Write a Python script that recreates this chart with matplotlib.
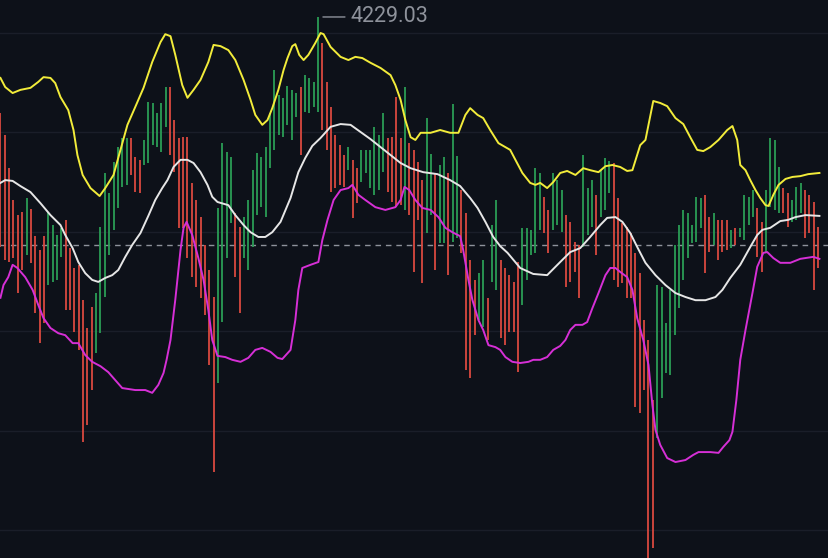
import numpy as np
import matplotlib.pyplot as plt
from matplotlib.transforms import offset_copy

# ---------- datos ----------
bar_high = [
    4204.9, 4199.3, 4191.0, 4183.0, 4179.2, 4180.0, 4183.5, 4180.7, 4173.9, 4170.4,
    4173.9, 4180.0, 4176.7, 4174.2, 4176.0, 4178.0, 4170.9, 4165.9, 4166.7, 4157.9,
    4150.8, 4156.1, 4159.6, 4176.2, 4189.8, 4184.8, 4192.6, 4196.3, 4198.6, 4198.6,
    4198.6, 4193.8, 4193.0, 4198.1, 4207.6, 4207.4, 4204.9, 4207.4, 4211.4, 4211.4,
    4203.1, 4198.6, 4198.8, 4198.8, 4187.3, 4183.0, 4178.7, 4171.7, 4165.4, 4158.6,
    4181.0, 4197.3, 4195.1, 4193.8, 4179.7, 4176.2, 4178.7, 4183.0, 4190.5, 4194.8,
    4193.8, 4196.3, 4204.9, 4215.7, 4209.4, 4208.7, 4211.7, 4210.7, 4209.9, 4211.4,
    4214.4, 4213.7, 4212.7, 4229.03, 4222.5, 4212.7, 4206.4, 4199.3, 4196.8, 4194.3,
    4196.3, 4193.0, 4191.0, 4195.6, 4195.6, 4195.6, 4201.4, 4199.3, 4204.9, 4198.6,
    4198.8, 4208.9, 4198.6, 4211.4, 4197.3, 4195.6, 4192.6, 4188.0, 4203.6, 4194.6,
    4189.8, 4191.8, 4193.8, 4189.8, 4207.1, 4194.1, 4185.5, 4179.7, 4167.9, 4162.9,
    4164.6, 4167.9, 4158.4, 4176.7, 4183.0, 4167.9, 4165.9, 4164.1, 4162.4, 4167.4,
    4176.0, 4176.0, 4175.5, 4191.0, 4189.8, 4183.8, 4180.5, 4189.8, 4188.0, 4185.5,
    4179.2, 4177.5, 4172.4, 4171.7, 4194.3, 4186.0, 4188.0, 4184.3, 4190.5, 4193.6,
    4192.8, 4192.3, 4183.5, 4177.2, 4176.2, 4174.7, 4169.7, 4164.6, 4152.8, 4147.8,
    4132.7, 4161.6, 4161.1, 4152.1, 4160.4, 4171.7, 4176.7, 4180.5, 4179.7, 4176.7,
    4183.8, 4183.5, 4184.3, 4178.7, 4179.7, 4178.0, 4178.0, 4178.0, 4175.5, 4176.0,
    4176.0, 4184.3, 4183.8, 4185.5, 4181.0, 4177.5, 4185.5, 4198.6, 4198.1, 4191.3,
    4186.0, 4184.8, 4183.0, 4186.3, 4187.3, 4185.5, 4184.3, 4182.5, 4176.2,
]
bar_low = [
    4171.2, 4167.9, 4167.4, 4168.4, 4159.6, 4165.4, 4169.2, 4167.2, 4154.6, 4147.0,
    4152.1, 4161.6, 4162.4, 4162.9, 4168.7, 4155.3, 4155.3, 4149.8, 4145.3, 4122.1,
    4126.4, 4135.2, 4144.5, 4149.5, 4158.6, 4169.2, 4175.5, 4181.0, 4186.3, 4186.8,
    4189.3, 4185.0, 4184.8, 4191.8, 4192.3, 4196.8, 4196.3, 4195.1, 4201.4, 4194.3,
    4190.0, 4176.0, 4176.0, 4168.4, 4163.6, 4161.1, 4158.4, 4154.1, 4141.5, 4114.6,
    4137.0, 4152.3, 4168.4, 4177.2, 4163.6, 4154.6, 4168.4, 4165.4, 4171.2, 4179.2,
    4181.2, 4178.7, 4191.0, 4195.6, 4199.3, 4198.8, 4201.9, 4198.1, 4203.9, 4194.3,
    4205.1, 4204.9, 4206.4, 4205.1, 4200.6, 4195.6, 4185.0, 4186.0, 4186.8, 4186.3,
    4190.5, 4178.5, 4182.2, 4187.5, 4189.8, 4186.0, 4184.3, 4185.5, 4190.0, 4185.0,
    4182.5, 4181.2, 4181.7, 4180.5, 4179.2, 4164.9, 4178.0, 4162.1, 4174.7, 4179.2,
    4165.4, 4172.2, 4172.2, 4164.1, 4172.4, 4173.4, 4169.7, 4140.2, 4138.2, 4149.0,
    4152.8, 4151.1, 4147.8, 4162.4, 4160.4, 4148.3, 4146.5, 4149.8, 4149.8, 4139.7,
    4156.6, 4162.9, 4169.2, 4169.7, 4175.5, 4174.7, 4169.7, 4175.5, 4176.7, 4175.0,
    4161.1, 4162.4, 4164.9, 4158.4, 4171.2, 4174.2, 4176.2, 4169.2, 4178.7, 4180.5,
    4184.8, 4162.9, 4161.1, 4162.1, 4158.4, 4158.4, 4130.9, 4129.4, 4135.2, 4091.0,
    4095.5, 4123.1, 4133.2, 4139.5, 4139.0, 4149.0, 4155.8, 4162.9, 4168.4, 4172.2,
    4172.4, 4176.0, 4164.6, 4169.9, 4171.7, 4167.9, 4169.9, 4170.4, 4170.9, 4171.7,
    4173.7, 4172.9, 4176.7, 4178.7, 4168.7, 4164.9, 4169.9, 4181.2, 4180.5, 4179.7,
    4179.7, 4176.2, 4177.5, 4178.0, 4179.7, 4173.4, 4174.7, 4160.4, 4165.9,
]
# G = sube, R = baja
bar_dir = list(
    "RRRRRRGRRR" "RGGGGRRRRR" "RRGGGGGGGG" "RRRGGGGGGR" "RRRRRRRRRR"
    "GGGGRRGGGG" "GGGGGGGGGR" "GGGGRRRRRR" "GRRGGGGGGR" "RRRGRRRRGG"
    "RGGRGGRRRR" "GGRGGRRRRR" "GGGGGRRGGG" "RRRRGGGRGG" "GRRRRRRRRR"
    "RGGGGGGGGG" "GGRRGRRRGR" "GGGGRRGGGG" "RRGGGRRRR"
)

upper_idx = [0, 1.1, 2.8, 4.6, 6.9, 8.7, 9.9, 11.5, 12.6, 13.8, 15.6, 16.8, 17.7, 18.9,
             20.7, 22.8, 24.1, 26.0, 27.6, 29.2, 31.0, 32.9, 34.9, 36.8, 37.9, 39.1,
             40.2, 41.8, 43.0, 44.4, 46.0, 47.8, 49.0, 50.6, 52.4, 54.0, 55.9, 57.5,
             58.6, 60.2, 61.4, 62.5, 63.9, 65.1, 66.0, 67.1, 67.8, 68.7, 69.7, 70.8,
             72.4, 73.6, 74.3, 75.9, 78.2, 80.0, 81.6, 83.2, 85.1, 87.4, 89.7, 90.8,
             92.0, 93.1, 94.3, 95.4, 96.6, 98.9, 101.1, 103.4, 105.3, 106.9, 108.0,
             109.7, 111.0, 112.6, 114.5, 117.2, 118.4, 120.0, 121.8, 123.0, 124.1,
             125.7, 127.1, 128.7, 130.3, 132.2, 134.0, 135.6, 137.5, 139.1, 140.7,
             142.5, 144.1, 145.3, 147.1, 148.3, 150.1, 151.7, 153.3, 155.2, 157.0,
             158.6, 160.2, 161.6, 163.2, 165.1, 167.1, 168.3, 169.4, 170.1, 171.3,
             172.4, 173.6, 174.7, 175.9, 176.6, 177.7, 178.9, 180.5, 182.1, 183.9,
             185.7, 188.3]
upper_val = [4213.7, 4211.4, 4209.9, 4210.7, 4211.2, 4212.7, 4213.9, 4213.7, 4212.4,
             4208.9, 4205.6, 4200.6, 4194.3, 4189.3, 4186.0, 4184.0, 4186.0, 4189.3,
             4195.6, 4201.9, 4206.4, 4211.2, 4217.7, 4222.7, 4224.7, 4224.2, 4219.5,
             4211.9, 4208.7, 4210.7, 4213.2, 4217.7, 4222.0, 4221.7, 4220.7, 4218.2,
             4213.2, 4208.2, 4204.4, 4201.9, 4203.1, 4206.1, 4210.7, 4215.7, 4218.7,
             4221.7, 4222.2, 4219.5, 4218.2, 4219.5, 4222.5, 4225.0, 4224.7, 4221.5,
             4219.0, 4218.2, 4219.0, 4218.7, 4217.5, 4216.2, 4214.4, 4211.9, 4208.2,
             4203.1, 4198.8, 4198.1, 4199.9, 4199.9, 4200.6, 4199.9, 4199.9, 4204.4,
             4206.1, 4204.4, 4203.6, 4200.6, 4197.3, 4195.6, 4193.1, 4189.8, 4187.3,
             4186.8, 4187.3, 4186.0, 4187.5, 4189.8, 4190.3, 4189.3, 4191.0, 4190.5,
             4190.0, 4191.5, 4191.8, 4191.3, 4190.3, 4190.5, 4196.8, 4198.1, 4207.9,
             4207.4, 4206.6, 4203.6, 4202.1, 4198.8, 4195.6, 4195.3, 4196.3, 4198.1,
             4200.6, 4201.6, 4198.1, 4191.8, 4190.5, 4188.0, 4185.5, 4183.5, 4181.7,
             4181.5, 4184.3, 4186.8, 4188.3, 4188.8, 4189.0, 4189.5, 4189.8]

mid_idx = [0, 1.1, 2.8, 4.6, 6.9, 9.2, 11.5, 13.8, 14.9, 16.6, 17.9, 19.5, 21.1, 22.5,
           24.1, 25.7, 27.1, 28.7, 30.3, 32.2, 34.0, 35.6, 37.2, 38.4, 39.8, 41.4, 43.0,
           44.4, 46.0, 47.6, 48.7, 49.9, 52.4, 54.0, 55.9, 57.5, 59.3, 60.9, 62.5, 64.4,
           66.7, 68.5, 70.1, 71.7, 73.6, 75.9, 78.2, 80.5, 82.8, 85.1, 87.4, 89.7, 92.0,
           94.3, 97.2, 100.5, 103.4, 105.7, 108.0, 109.7, 111.5, 113.3, 114.9, 116.6,
           119.5, 122.5, 125.7, 128.7, 131.0, 133.3, 135.6, 137.9, 139.5, 141.4, 143.0,
           144.8, 146.4, 148.3, 150.6, 152.9, 155.2, 157.5, 159.8, 162.1, 164.4, 166.0,
           167.8, 170.1, 172.4, 174.0, 175.2, 177.0, 179.3, 181.1, 182.8, 185.1, 188.3]
mid_val = [4187.3, 4188.0, 4187.8, 4186.5, 4185.0, 4182.2, 4179.2, 4176.7, 4174.2,
           4170.9, 4167.4, 4164.6, 4162.9, 4162.4, 4163.4, 4164.1, 4165.4, 4168.7,
           4171.7, 4174.7, 4179.0, 4183.0, 4186.0, 4188.0, 4191.3, 4193.1, 4193.1,
           4192.3, 4190.0, 4186.8, 4183.8, 4182.5, 4181.7, 4179.2, 4176.7, 4174.9,
           4173.7, 4173.7, 4174.9, 4177.5, 4183.5, 4190.0, 4193.6, 4196.6, 4198.6,
           4201.4, 4202.1, 4201.9, 4200.1, 4198.3, 4196.3, 4194.3, 4192.3, 4191.0,
           4190.0, 4189.5, 4188.0, 4186.5, 4183.5, 4181.0, 4177.5, 4173.7, 4171.4,
           4169.7, 4165.9, 4164.4, 4164.1, 4167.4, 4169.9, 4170.9, 4173.7, 4176.7,
           4178.5, 4178.7, 4177.5, 4174.7, 4171.2, 4167.2, 4164.1, 4161.6, 4159.6,
           4158.6, 4157.8, 4157.8, 4158.6, 4160.4, 4163.4, 4166.7, 4171.2, 4174.2,
           4175.5, 4176.0, 4177.7, 4178.0, 4178.7, 4179.2, 4179.0]

lower_idx = [0, 0.7, 1.8, 2.8, 3.9, 5.7, 7.4, 8.7, 9.9, 11.5, 13.3, 14.9, 16.6, 17.9,
             19.5, 21.1, 23.0, 24.8, 26.4, 28.0, 31.0, 33.3, 34.9, 36.3, 37.5, 38.2,
             39.1, 40.2, 41.4, 42.1, 42.8, 44.1, 45.5, 46.7, 47.8, 48.7, 49.9, 51.7,
             53.3, 55.2, 57.0, 58.6, 60.2, 62.1, 63.7, 64.8, 66.7, 67.8, 68.5, 69.4,
             71.3, 73.1, 74.0, 75.2, 76.6, 78.2, 80.0, 80.9, 82.3, 83.9, 86.2, 88.5,
             90.8, 92.0, 92.9, 94.0, 95.4, 97.0, 98.9, 100.7, 102.3, 103.9, 105.7,
             106.4, 107.6, 108.5, 109.9, 111.0, 112.2, 113.8, 114.9, 116.1, 117.7,
             119.5, 121.4, 122.5, 124.1, 125.7, 127.1, 128.7, 129.9, 131.0, 132.2,
             133.8, 134.9, 136.1, 137.5, 139.1, 140.2, 141.4, 142.5, 144.1, 145.3,
             146.4, 147.8, 149.0, 149.9, 150.6, 151.7, 153.3, 155.2, 157.5, 159.3,
             160.5, 163.2, 165.1, 166.2, 167.6, 168.3, 169.2, 170.1, 171.3, 172.9,
             174.0, 175.4, 176.3, 177.7, 179.3, 181.6, 183.9, 186.9, 188.3]
lower_val = [4158.4, 4161.6, 4163.6, 4166.7, 4165.9, 4163.6, 4160.4, 4156.6, 4153.3,
             4150.8, 4149.5, 4149.0, 4147.0, 4147.0, 4144.0, 4142.3, 4141.2, 4139.7,
             4137.7, 4135.7, 4135.2, 4135.2, 4134.5, 4136.5, 4139.5, 4142.8, 4147.8,
             4157.9, 4170.4, 4176.0, 4177.5, 4174.2, 4168.4, 4162.9, 4155.3, 4147.8,
             4143.8, 4143.5, 4142.8, 4142.3, 4143.3, 4145.3, 4145.8, 4144.8, 4143.3,
             4143.0, 4145.3, 4152.8, 4160.4, 4165.9, 4166.7, 4167.4, 4172.9, 4178.0,
             4183.0, 4185.5, 4186.0, 4186.8, 4184.3, 4183.0, 4181.2, 4180.5, 4181.2,
             4183.0, 4186.3, 4185.5, 4183.0, 4181.0, 4180.5, 4178.7, 4176.0, 4174.9,
             4173.9, 4170.4, 4162.9, 4157.9, 4152.8, 4150.3, 4146.5, 4146.0, 4145.3,
             4143.5, 4142.3, 4142.0, 4142.3, 4142.8, 4142.8, 4143.5, 4145.3, 4146.3,
             4147.8, 4150.3, 4151.6, 4151.6, 4152.3, 4155.8, 4159.6, 4164.1, 4165.9,
             4165.9, 4164.9, 4163.6, 4160.4, 4153.3, 4147.8, 4141.5, 4131.4, 4125.2,
             4121.4, 4118.1, 4117.1, 4117.6, 4118.9, 4119.6, 4119.6, 4119.4, 4120.9,
             4122.6, 4124.7, 4132.7, 4142.8, 4150.3, 4159.6, 4166.2, 4169.7, 4169.9,
             4168.4, 4167.2, 4167.2, 4168.2, 4168.7, 4168.2]

grid_levels = [4225, 4200, 4175, 4150, 4125, 4100]
last_price = 4171.6
max_label = "4229.03"

# ---------- figura ----------
bg = '#0d1119'
fig = plt.figure(figsize=(8.29, 5.58), dpi=100, facecolor=bg)
ax = fig.add_axes([0, 0, 1, 1])
ax.set_facecolor(bg)

for g in grid_levels:
    ax.axhline(g, color='#1a1e29', lw=1.0, zorder=0)
ax.axhline(last_price, color='#8e929b', lw=1.0, ls=(0, (4, 3.5)), zorder=1)

idx = np.arange(len(bar_high))
cols = ['#2a9d55' if d == 'G' else '#d9493f' for d in bar_dir]
ax.vlines(idx, bar_low, bar_high, colors=cols, lw=1.3, zorder=2)

ax.plot(upper_idx, upper_val, color='#f2ec3a', lw=1.4, zorder=3)
ax.plot(mid_idx, mid_val, color='#e6e6e6', lw=1.4, zorder=3)
ax.plot(lower_idx, lower_val, color='#d62fd6', lw=1.4, zorder=3)

# etiqueta del maximo
imax = int(np.argmax(bar_high))
hmax = bar_high[imax]
t1 = offset_copy(ax.transData, fig=fig, x=5, y=0, units='dots')
t2 = offset_copy(ax.transData, fig=fig, x=27, y=0, units='dots')
ax.annotate('', xy=(imax, hmax), xycoords=t2, xytext=(imax, hmax), textcoords=t1,
            arrowprops=dict(arrowstyle='-', color='#8e929b', lw=1.0,
                            shrinkA=0, shrinkB=0))
t3 = offset_copy(ax.transData, fig=fig, x=33, y=0, units='dots')
ax.text(imax, hmax, max_label, transform=t3, ha='left', va='center',
        color='#8e929b', fontsize=15.5, family='Roboto')

ax.set_xlim(-0.1, 190.5)
ax.set_ylim(4092.96, 4233.3)
for s in ax.spines.values():
    s.set_visible(False)
ax.set_xticks([])
ax.set_yticks([])

fig.savefig('out.png', dpi=100, facecolor=bg)
